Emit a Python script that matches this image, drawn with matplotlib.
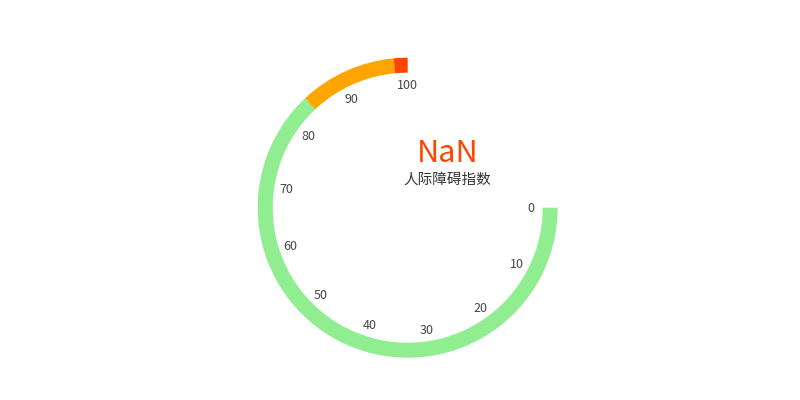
import numpy as np
import matplotlib
matplotlib.use("Agg")
import matplotlib.pyplot as plt
from matplotlib.patches import Wedge

# gauge data
gauge_min = 0
gauge_max = 100
band_stops = [0.84, 0.98, 1.0]          # fraction of the axis where each colour band ends
band_colors = ["#90EE90", "#FFA500", "#FF4500"]
tick_values = [0, 10, 20, 30, 40, 50, 60, 70, 80, 90, 100]
value = np.nan
value_text = "NaN"
gauge_name = "人际障碍指数"

plt.rcParams["font.family"] = ["Noto Sans CJK SC", "DejaVu Sans"]

fig = plt.figure(figsize=(8, 4), dpi=100)
ax = fig.add_axes([0, 0, 1, 1])
ax.set_xlim(0, 800)
ax.set_ylim(0, 400)
ax.set_aspect("equal")
ax.axis("off")

cx, cy = 407.7, 192.3
r_out, width = 150, 15
start_angle, span = 0, 270  # clockwise from 3 o'clock


def angle_of(frac):
    return start_angle - span * frac


prev = 0.0
for stop, col in zip(band_stops, band_colors):
    ax.add_patch(Wedge((cx, cy), r_out, angle_of(stop), angle_of(prev),
                       width=width, facecolor=col, edgecolor="none"))
    prev = stop

# axis labels
r_lab = 123
for v in tick_values:
    frac = (v - gauge_min) / (gauge_max - gauge_min)
    th = np.deg2rad(angle_of(frac))
    ax.text(cx + r_lab * np.cos(th), cy + r_lab * np.sin(th) - 1, str(v),
            ha="center", va="center", fontsize=9, color="#464646")

# detail + title
ax.text(448, 400 - 162, value_text, ha="center", va="baseline",
        fontsize=22, color="#FF4500")
ax.text(447.5, 400 - 180, gauge_name, ha="center", va="center",
        fontsize=10.5, color="#333333")

fig.savefig("out.png", dpi=100)
